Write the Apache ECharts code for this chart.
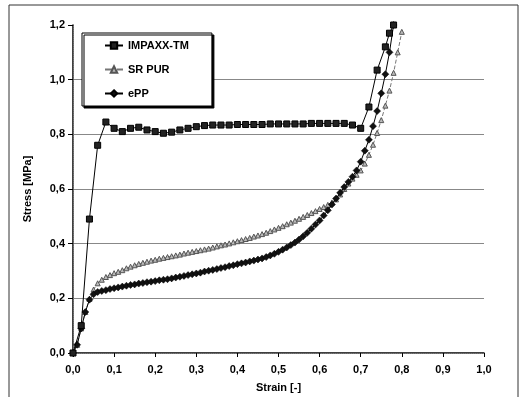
<!DOCTYPE html>
<html>
<head>
<meta charset="utf-8">
<script src="https://cdn.jsdelivr.net/npm/echarts@6.0.0/dist/echarts.min.js"></script>
<style>
  html, body { margin: 0; padding: 0; background: #fff; }
  #chart { width: 522px; height: 397px; }
</style>
</head>
<body>
<div id="chart"></div>
<script>
// IMPAXX-TM: one marker every 0.02 strain
const impaxxStrain = [0, 0.02, 0.04, 0.06, 0.08, 0.10, 0.12, 0.14, 0.16, 0.18, 0.20, 0.22, 0.24, 0.26, 0.28, 0.30,
  0.32, 0.34, 0.36, 0.38, 0.40, 0.42, 0.44, 0.46, 0.48, 0.50, 0.52, 0.54, 0.56, 0.58, 0.60, 0.62, 0.64, 0.66, 0.68,
  0.70, 0.72, 0.74, 0.76, 0.77, 0.78];
const impaxxStress = [0, 0.10, 0.49, 0.76, 0.845, 0.822, 0.81, 0.822, 0.826, 0.816, 0.81, 0.804, 0.808, 0.816, 0.822, 0.828,
  0.832, 0.834, 0.834, 0.834, 0.836, 0.836, 0.836, 0.836, 0.838, 0.838, 0.838, 0.838, 0.838, 0.84, 0.84, 0.84, 0.84, 0.84, 0.834,
  0.822, 0.90, 1.035, 1.12, 1.17, 1.2];

// SR PUR
const purStrain = [0, 0.01, 0.02, 0.03, 0.04, 0.05, 0.06, 0.07, 0.08, 0.09, 0.10, 0.11, 0.12, 0.13, 0.14, 0.15, 0.16, 0.17,
  0.18, 0.19, 0.20, 0.21, 0.22, 0.23, 0.24, 0.25, 0.26, 0.27, 0.28, 0.29, 0.30, 0.31, 0.32, 0.33, 0.34, 0.35, 0.36, 0.37,
  0.38, 0.39, 0.40, 0.41, 0.42, 0.43, 0.44, 0.45, 0.46, 0.47, 0.48, 0.49, 0.50, 0.51, 0.52, 0.53, 0.54, 0.55, 0.56, 0.57,
  0.58, 0.59, 0.60, 0.61, 0.62, 0.63, 0.64, 0.65, 0.66, 0.67, 0.68, 0.69, 0.70, 0.71, 0.72, 0.73, 0.74, 0.75, 0.76, 0.77,
  0.78, 0.79, 0.80];
const purStress = [0, 0.03, 0.09, 0.15, 0.198, 0.232, 0.255, 0.268, 0.278, 0.285, 0.292, 0.297, 0.303, 0.31, 0.316, 0.321,
  0.326, 0.33, 0.334, 0.338, 0.341, 0.345, 0.348, 0.351, 0.354, 0.357, 0.36, 0.364, 0.367, 0.37, 0.373, 0.376, 0.379, 0.382,
  0.386, 0.39, 0.394, 0.397, 0.401, 0.405, 0.409, 0.413, 0.417, 0.421, 0.426, 0.43, 0.435, 0.44, 0.446, 0.452, 0.458, 0.464,
  0.471, 0.477, 0.484, 0.491, 0.498, 0.505, 0.512, 0.519, 0.527, 0.534, 0.542, 0.551, 0.562, 0.58, 0.6, 0.62, 0.638, 0.652,
  0.668, 0.693, 0.725, 0.762, 0.805, 0.852, 0.905, 0.96, 1.025, 1.10, 1.175];

// ePP
const eppStrain = [0, 0.01, 0.02, 0.03, 0.04, 0.05, 0.06, 0.07, 0.08, 0.09, 0.10, 0.11, 0.12, 0.13, 0.14, 0.15, 0.16, 0.17,
  0.18, 0.19, 0.20, 0.21, 0.22, 0.23, 0.24, 0.25, 0.26, 0.27, 0.28, 0.29, 0.30, 0.31, 0.32, 0.33, 0.34, 0.35, 0.36, 0.37,
  0.38, 0.39, 0.40, 0.41, 0.42, 0.43, 0.44, 0.45, 0.46, 0.47, 0.48, 0.49, 0.50, 0.51, 0.52, 0.53, 0.54, 0.55, 0.56, 0.57,
  0.58, 0.59, 0.60, 0.61, 0.62, 0.63, 0.64, 0.65, 0.66, 0.67, 0.68, 0.69, 0.70, 0.71, 0.72, 0.73, 0.74, 0.75, 0.76, 0.77, 0.78];
const eppStress = [0, 0.03, 0.09, 0.15, 0.195, 0.215, 0.223, 0.227, 0.23, 0.234, 0.237, 0.24, 0.243, 0.246, 0.249, 0.251,
  0.254, 0.256, 0.259, 0.261, 0.263, 0.266, 0.268, 0.27, 0.273, 0.276, 0.279, 0.282, 0.285, 0.288, 0.291, 0.294, 0.298, 0.301,
  0.304, 0.307, 0.311, 0.314, 0.318, 0.321, 0.325, 0.328, 0.331, 0.335, 0.338, 0.342, 0.346, 0.351, 0.357, 0.363, 0.37, 0.378,
  0.386, 0.395, 0.404, 0.415, 0.427, 0.44, 0.455, 0.47, 0.485, 0.503, 0.522, 0.543, 0.565, 0.586, 0.607, 0.626, 0.645, 0.668,
  0.70, 0.74, 0.78, 0.83, 0.885, 0.95, 1.02, 1.10, 1.20];

const seriesNames = ['IMPAXX-TM', 'SR PUR', 'ePP'];

const font = "'Liberation Sans', Arial, sans-serif";
const comma = v => v.toFixed(1).replace('.', ',');
const pairs = (xs, ys) => xs.map((x, i) => [x, ys[i]]);

const chart = echarts.init(document.getElementById('chart'));

chart.setOption({
  animation: false,
  backgroundColor: '#fff',
  textStyle: { fontFamily: font },
  graphic: [{
    type: 'rect',
    shape: { x: 9, y: 5, width: 509, height: 400 },
    style: { fill: 'none', stroke: '#333', lineWidth: 1 },
    silent: true
  }],
  grid: { left: 73, right: 38, top: 25, bottom: 44, outerBoundsMode: 'none' },
  legend: {
    data: seriesNames,
    orient: 'vertical',
    left: 82,
    top: 33,
    itemWidth: 18,
    itemHeight: 8,
    itemGap: 13,
    padding: [7, 23, 7, 22],
    backgroundColor: '#fff',
    borderColor: '#000',
    borderWidth: 1,
    shadowColor: '#000',
    shadowBlur: 0,
    shadowOffsetX: 2,
    shadowOffsetY: 2,
    textStyle: { fontFamily: font, fontSize: 11, fontWeight: 'bold', color: '#000' }
  },
  xAxis: [{
    type: 'value',
    min: 0,
    max: 1,
    interval: 0.1,
    name: 'Strain [-]',
    nameLocation: 'middle',
    nameGap: 29,
    nameTextStyle: { fontFamily: font, fontSize: 11, fontWeight: 'bold', color: '#000' },
    axisLine: { lineStyle: { color: '#000', width: 1.5 } },
    axisTick: { show: true, inside: false, length: 4, lineStyle: { color: '#000' } },
    axisLabel: { margin: 11, fontSize: 11, fontWeight: 'bold', color: '#000', fontFamily: font, formatter: comma },
    splitLine: { show: false }
  }, {
    type: 'value',
    position: 'top',
    min: 0,
    max: 1,
    axisLine: { show: true, lineStyle: { color: '#777', type: 'dotted', width: 1 } },
    axisTick: { show: false },
    axisLabel: { show: false },
    splitLine: { show: false }
  }],
  yAxis: [{
    type: 'value',
    min: 0,
    max: 1.2,
    interval: 0.2,
    name: 'Stress [MPa]',
    nameLocation: 'middle',
    nameGap: 40,
    nameTextStyle: { fontFamily: font, fontSize: 11, fontWeight: 'bold', color: '#000' },
    axisLine: { show: true, lineStyle: { color: '#000', width: 1.5 } },
    axisTick: { show: true, inside: false, length: 5, lineStyle: { color: '#000' } },
    axisLabel: { margin: 8, fontSize: 11, fontWeight: 'bold', color: '#000', fontFamily: font, formatter: comma },
    splitLine: { show: true, showMinLine: false, showMaxLine: false, lineStyle: { color: '#888', width: 1 } }
  }, {
    type: 'value',
    position: 'right',
    min: 0,
    max: 1.2,
    axisLine: { show: true, lineStyle: { color: '#777', type: 'dotted', width: 1 } },
    axisTick: { show: false },
    axisLabel: { show: false },
    splitLine: { show: false }
  }],
  series: [{
    name: 'SR PUR',
    type: 'line',
    data: pairs(purStrain, purStress),
    symbol: 'triangle',
    symbolSize: 5,
    showAllSymbol: true,
    itemStyle: { color: '#bbb', borderColor: '#555', borderWidth: 1 },
    lineStyle: { color: '#777', width: 1, type: 'dashed' },
    z: 2
  }, {
    name: 'ePP',
    type: 'line',
    data: pairs(eppStrain, eppStress),
    symbol: 'diamond',
    symbolSize: 7,
    showAllSymbol: true,
    itemStyle: { color: '#111', borderColor: '#000', borderWidth: 0.5 },
    lineStyle: { color: '#000', width: 1 },
    z: 3
  }, {
    name: 'IMPAXX-TM',
    type: 'line',
    data: pairs(impaxxStrain, impaxxStress),
    symbol: 'rect',
    symbolSize: 6,
    showAllSymbol: true,
    itemStyle: { color: '#222', borderColor: '#000', borderWidth: 1 },
    lineStyle: { color: '#000', width: 1 },
    z: 4
  }]
});
</script>
</body>
</html>
